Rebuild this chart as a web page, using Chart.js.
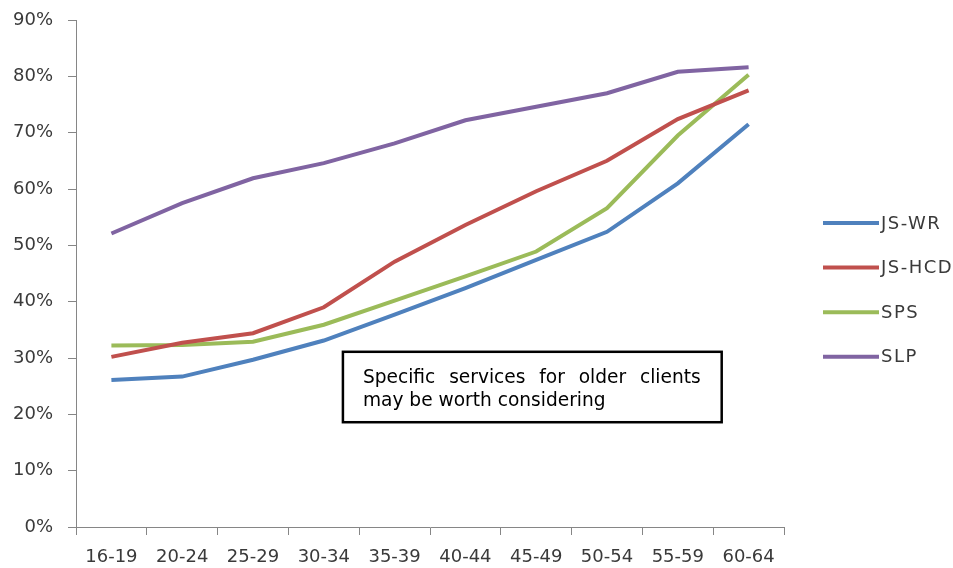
<!DOCTYPE html>
<html>
<head>
<meta charset="utf-8">
<script src="https://cdn.jsdelivr.net/npm/chart.js@4.4.1/dist/chart.umd.min.js"></script>
<style>
  html, body { margin: 0; padding: 0; background: #ffffff; }
  canvas { display: block; }
</style>
</head>
<body>
<canvas id="chart" width="953" height="568"></canvas>
<script>
// Age groups along the horizontal axis
const ageGroups = ['16-19', '20-24', '25-29', '30-34', '35-39', '40-44', '45-49', '50-54', '55-59', '60-64'];

// Share of clients (%) for each programme by age group
const jsWr  = [26.1, 26.7, 29.7, 33.1, 37.7, 42.4, 47.4, 52.4, 61.0, 71.5];
const jsHcd = [30.2, 32.7, 34.4, 39.0, 47.1, 53.6, 59.6, 65.0, 72.4, 77.5];
const sps   = [32.2, 32.3, 32.9, 35.9, 40.2, 44.5, 48.9, 56.6, 69.5, 80.3];
const slp   = [52.1, 57.5, 61.9, 64.6, 68.1, 72.2, 74.6, 77.0, 80.8, 81.6];

const seriesNames = ['JS-WR', 'JS-HCD', 'SPS', 'SLP'];
const noteLines = ['Specific services for older clients', 'may be worth considering'];

const FONT = "'DejaVu Sans', Verdana, sans-serif";
const AXIS_GREY = '#868686';

// Side legend: short line sample followed by the series name
const sideLegend = {
  id: 'sideLegend',
  afterDraw(chart) {
    const { ctx, chartArea } = chart;
    const x0 = chartArea.right + 39;
    const y0 = chartArea.top + 203;
    const step = 44.6;
    ctx.save();
    ctx.font = '18px ' + FONT;
    if ('letterSpacing' in ctx) ctx.letterSpacing = '1.5px';
    ctx.textBaseline = 'middle';
    ctx.textAlign = 'left';
    chart.data.datasets.forEach((ds, i) => {
      const y = y0 + i * step;
      ctx.strokeStyle = ds.borderColor;
      ctx.lineWidth = 4;
      ctx.lineCap = 'butt';
      ctx.beginPath();
      ctx.moveTo(x0, y);
      ctx.lineTo(x0 + 56, y);
      ctx.stroke();
      ctx.fillStyle = '#3a3a3a';
      ctx.fillText(ds.label, x0 + 58, y + 1);
    });
    ctx.restore();
  }
};

// Boxed note placed in axis units, first line justified
const noteBox = {
  id: 'noteBox',
  afterDraw(chart, args, opts) {
    const { ctx, scales } = chart;
    const left = scales.x.getPixelForValue(opts.xFrom);
    const right = scales.x.getPixelForValue(opts.xTo);
    const top = scales.y.getPixelForValue(opts.yTop);
    const bottom = scales.y.getPixelForValue(opts.yBottom);
    ctx.save();
    ctx.fillStyle = '#ffffff';
    ctx.fillRect(left, top, right - left, bottom - top);
    ctx.strokeStyle = '#000000';
    ctx.lineWidth = 2.5;
    ctx.strokeRect(left, top, right - left, bottom - top);
    ctx.font = '18.6px ' + FONT;
    ctx.fillStyle = '#000000';
    ctx.textBaseline = 'middle';
    ctx.textAlign = 'left';
    const tx = left + 20;
    const tw = right - left - 41;
    const firstY = top + 26;
    const lineGap = 23.5;
    opts.lines.forEach((line, i) => {
      const y = firstY + i * lineGap;
      if (i < opts.lines.length - 1) {
        const words = line.split(' ');
        const wordsWidth = words.reduce((s, w) => s + ctx.measureText(w).width, 0);
        const gap = (tw - wordsWidth) / (words.length - 1);
        let x = tx;
        words.forEach(w => {
          ctx.fillText(w, x, y);
          x += ctx.measureText(w).width + gap;
        });
      } else {
        ctx.fillText(line, tx, y);
      }
    });
    ctx.restore();
  }
};

const seriesColors = ['#4F81BD', '#C0504D', '#9BBB59', '#8064A2'];
const seriesValues = [jsWr, jsHcd, sps, slp];

new Chart(document.getElementById('chart'), {
  type: 'line',
  data: {
    labels: ageGroups,
    datasets: seriesValues.map((vals, i) => ({
      label: seriesNames[i],
      data: vals,
      borderColor: seriesColors[i],
      backgroundColor: seriesColors[i],
      borderWidth: 4,
      pointRadius: 0,
      pointHoverRadius: 0,
      tension: 0,
      fill: false
    }))
  },
  options: {
    responsive: false,
    animation: false,
    devicePixelRatio: 1,
    layout: { padding: { left: 0, right: 169, top: 20, bottom: 0 } },
    plugins: {
      legend: { display: false },
      tooltip: { enabled: false },
      noteBox: { xFrom: 3.27, xTo: 8.62, yTop: 31.1, yBottom: 18.6, lines: noteLines }
    },
    scales: {
      x: {
        offset: true,
        afterFit: s => { s.height = 41; },
        grid: {
          offset: true,
          drawOnChartArea: false,
          drawTicks: true,
          tickLength: 8,
          color: AXIS_GREY
        },
        border: { display: true, color: AXIS_GREY, width: 1 },
        ticks: {
          padding: 12,
          color: '#3a3a3a',
          font: { family: FONT, size: 18 },
          maxRotation: 0,
          autoSkip: false
        }
      },
      y: {
        min: 0,
        max: 90,
        afterFit: s => { s.width = 76; s.paddingTop = 0; s.paddingBottom = 0; },
        grid: {
          drawOnChartArea: false,
          drawTicks: true,
          tickLength: 8,
          color: AXIS_GREY
        },
        border: { display: true, color: AXIS_GREY, width: 1 },
        ticks: {
          stepSize: 10,
          padding: 15,
          color: '#3a3a3a',
          font: { family: FONT, size: 18 },
          callback: v => v + '%'
        }
      }
    }
  },
  plugins: [noteBox, sideLegend]
});
</script>
</body>
</html>
